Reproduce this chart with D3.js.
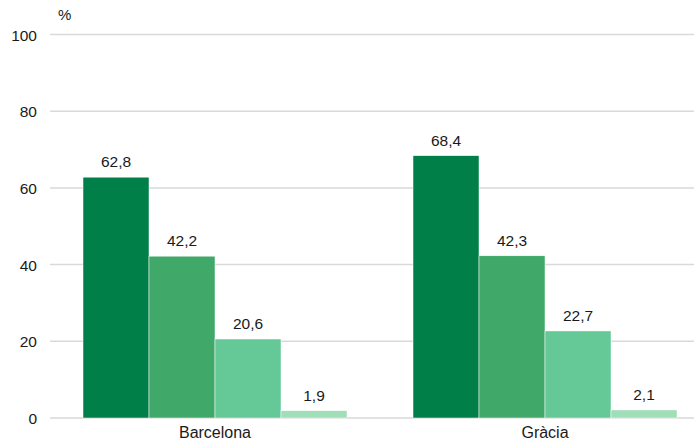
<!DOCTYPE html>
<html>
<head>
<meta charset="utf-8">
<script src="https://cdn.jsdelivr.net/npm/d3@7"></script>
<style>
  body { margin: 0; background: #fff; }
  text { font-family: "Liberation Sans", Arial, sans-serif; fill: #1a1a1a; }
</style>
</head>
<body>
<svg id="chart"></svg>
<script>
const categories = ["Barcelona", "Gràcia"];
const seriesNames = ["s1", "s2", "s3", "s4"];
const values = [
  [62.8, 42.2, 20.6, 1.9],
  [68.4, 42.3, 22.7, 2.1]
];
const yTicks = [0, 20, 40, 60, 80, 100];
const colors = ["#007f48", "#40a96a", "#64c996", "#9fdeb7"];

const width = 695, height = 440;
const svg = d3.select("#chart").attr("width", width).attr("height", height);

const x = d3.scaleBand().domain(categories).range([50, 710]).paddingInner(0).paddingOuter(0);
const xInner = d3.scaleBand().domain(seriesNames).range([0, x.bandwidth() * 0.8]);
const y = d3.scaleLinear().domain([0, 100]).range([418, 34.5]);

// gridlines
svg.append("g")
  .selectAll("line")
  .data(yTicks)
  .enter()
  .append("line")
  .attr("x1", 50)
  .attr("x2", 694)
  .attr("y1", d => y(d))
  .attr("y2", d => y(d))
  .style("stroke", "#d9d9d9")
  .style("stroke-width", 1.5);

// y tick labels
svg.append("g")
  .selectAll("text")
  .data(yTicks)
  .enter()
  .append("text")
  .attr("x", 37)
  .attr("y", d => y(d) + 6)
  .attr("text-anchor", "end")
  .style("font-size", "15.5px")
  .text(d => d);

svg.append("text")
  .attr("x", 58)
  .attr("y", 20)
  .style("font-size", "15px")
  .text("%");

const groups = svg.append("g")
  .selectAll("g")
  .data(categories)
  .enter()
  .append("g")
  .attr("transform", d => `translate(${x(d) + x.bandwidth() * 0.1},0)`);

groups.selectAll("rect")
  .data((d, i) => values[i].map((v, j) => ({ v, s: seriesNames[j], c: colors[j] })))
  .enter()
  .append("rect")
  .attr("x", d => xInner(d.s))
  .attr("width", xInner.bandwidth())
  .attr("y", d => y(d.v))
  .attr("height", d => y(0) - y(d.v))
  .style("fill", d => d.c)
  .style("stroke", "#fff")
  .style("stroke-width", 0.5);

groups.selectAll("text")
  .data((d, i) => values[i].map((v, j) => ({ v, s: seriesNames[j] })))
  .enter()
  .append("text")
  .attr("x", d => xInner(d.s) + xInner.bandwidth() / 2)
  .attr("y", d => y(d.v) - 10)
  .attr("text-anchor", "middle")
  .style("font-size", "15.5px")
  .text(d => d3.format(".1f")(d.v).replace(".", ","));

// category labels
svg.append("g")
  .selectAll("text")
  .data(categories)
  .enter()
  .append("text")
  .attr("x", d => x(d) + x.bandwidth() / 2)
  .attr("y", 437.5)
  .attr("text-anchor", "middle")
  .style("font-size", "16px")
  .text(d => d);
</script>
</body>
</html>
